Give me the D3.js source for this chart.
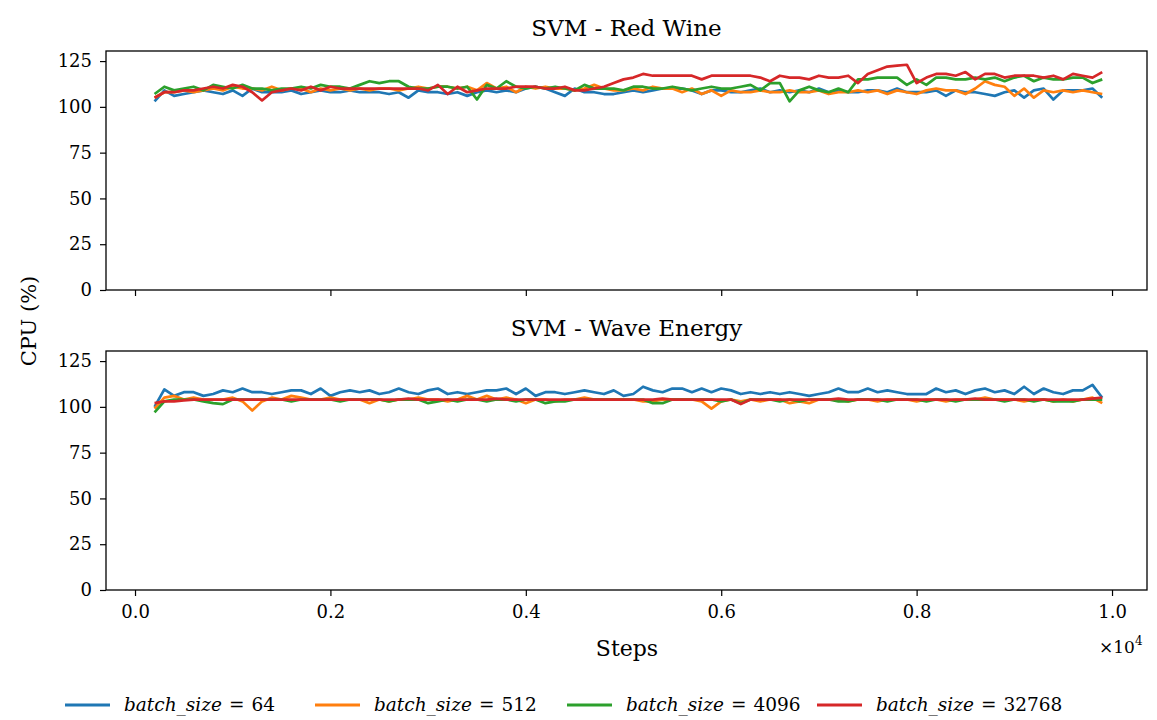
<!DOCTYPE html>
<html>
<head>
<meta charset="utf-8">
<script src="https://cdn.jsdelivr.net/npm/d3@7"></script>
<style>
  body { margin: 0; background: #fff; }
  svg text { font-family: "DejaVu Serif", serif; fill: #000; }
</style>
</head>
<body>
<script>
// steps 200..9900, every 100
const steps = d3.range(200, 10000, 100);

const seriesNames = ["64", "512", "4096", "32768"];
const colors = ["#1f77b4", "#ff7f0e", "#2ca02c", "#d62728"];
const panelTitles = ["SVM - Red Wine", "SVM - Wave Energy"];
const xTicks = [0, 2000, 4000, 6000, 8000, 10000];
const yTicks = [0, 25, 50, 75, 100, 125];

// Red Wine
const redWine64 = [103,109,106,107,108,109,108,107,109,106, 110,108,108,108,109,107,108,109,108,108,
  109,108,108,108,107,108,105,109,108,108, 107,108,106,108,109,108,109,108,110,111,
  110,108,106,110,108,108,107,107,108,109, 108,109,110,110,110,109,107,109,109,108,
  108,109,110,108,109,108,109,108,110,108, 109,108,108,109,109,108,110,108,108,108,
  109,106,109,108,108,107,106,108,109,105, 109,110,104,109,109,109,110,105];
const redWine512 = [105,108,108,109,108,109,110,109,111,110, 110,109,111,109,110,110,108,110,109,110,
  109,110,109,110,110,109,110,111,110,111, 111,110,111,109,113,110,111,108,111,110,
  111,110,110,109,110,112,110,109,109,110, 109,111,110,110,108,110,107,109,106,109,
  108,108,109,108,108,109,108,108,109,107, 108,108,109,108,109,107,109,108,107,109,
  110,109,109,107,110,114,112,111,106,110, 105,109,108,109,108,109,108,107];
const redWine4096 = [107,111,109,110,111,109,112,111,110,112, 110,110,109,110,110,111,110,112,111,111,
  110,112,114,113,114,114,111,110,110,111, 111,110,111,104,112,110,114,111,110,111,
  110,111,110,109,112,110,110,110,109,111, 111,110,110,111,110,109,110,111,110,110,
  111,112,109,113,113,103,109,111,109,108, 110,108,115,115,116,116,116,112,115,112,
  116,116,115,115,116,115,116,114,116,117, 114,116,115,115,116,116,113,115];
const redWine32768 = [105,108,108,109,109,110,111,110,112,111, 108,103.5,108,109,110,109,111,109,111,110,
  110,110,110,110,110,110,110,110,109,112, 107,111,108,109,110,110,110,111,111,111,
  110,110,111,109,109,110,111,113,115,116, 118,117,117,117,117,117,115,117,117,117,
  117,117,116,114,117,116,116,115,117,116, 116,117,113,118,120,122,122.5,123,113,116,
  118,118,117,119,115,118,118,116,117,117, 117,116,117,115,118,117,116,119];

// Wave Energy
const wave64 = [100,109.5,106,108,108,106,107,109,108,110, 108,108,107,108,109,109,107,110,106,108,
  109,108,109,107,108,110,108,107,109,110, 107,108,107,108,109,109,110,107,110,106,
  108,108,107,108,109,108,107,109,106,107, 111,109,108,110,110,108,110,108,110,109,
  107,108,107,108,107,108,107,106,107,108, 110,108,108,110,108,109,108,107,107,107,
  110,108,109,107,109,110,108,109,107,111, 107,110,108,107,109,109,112,105];
const wave512 = [99,105,106,104,105,104,104,104,105,103, 98,103,105,104,106,105,104,104,105,104,
  104,104,102,104,103,104,104,105,104,104, 103,104,106,104,106,104,105,104,102,104,
  104,103,104,104,105,104,104,104,104,104, 103,103,104,104,104,104,103,99,103,104,
  103,104,103,104,104,102,103,102,104,104, 104,103,104,104,103,104,104,104,103,104,
  104,103,104,104,104,105,104,104,104,103, 104,104,103,104,103,104,105,102];
const wave4096 = [97,103,104,104,104,103,102,101.5,104,104, 104,104,104,104,103,104,104,104,104,103,
  104,104,104,104,103,104,104,104,102,103, 104,103,104,104,103,104,104,103,104,104,
  102,103,103,104,104,104,104,104,104,104, 104,102,102,104,104,104,104,104,103,104,
  102,104,104,104,103,104,103,104,104,104, 103,103,104,104,104,103,104,104,104,103,
  104,104,103,104,104,104,104,103,104,104, 103,104,103,103,103,104,104,104];
const wave32768 = [102,103,103,103.5,104,104,104,104,104,104, 104,104,104,104,104,104,104,104,104,104,
  104,104,104,104,104,104,104.5,104,104,104, 104,104,104,104,104,104.5,104,104,104,104,
  104,104,104,104,104,104,104,104,104,104, 104,104,104.5,104,104,104,104,104,104,104,
  101.5,104,104,104,104,104,104,104,104,104, 104.5,104,104,104,104,104,104,104,104,104,
  104,104,104,104,104.5,104,104,104,104,104, 104,104,104,104,104,104,104.5,105];

const panels = [
  [redWine64, redWine512, redWine4096, redWine32768],
  [wave64, wave512, wave4096, wave32768]
];

const W = 1157, H = 720;
const left = 106, right = 1147;
const panelBox = [{ top: 51, bottom: 290 }, { top: 351, bottom: 590 }];

const svg = d3.select("body").append("svg")
  .attr("width", W)
  .attr("height", H)
  .attr("font-family", "DejaVu Serif");

const x = d3.scaleLinear().domain([-297, 10358]).range([left, right]);

panels.forEach(function(data, p) {
  const box = panelBox[p];
  const y = d3.scaleLinear().domain([0, 130.5]).range([box.bottom, box.top]);
  const g = svg.append("g");

  // x axis
  const xAxis = d3.axisBottom(x)
    .tickValues(xTicks)
    .tickSize(6)
    .tickSizeOuter(0)
    .tickFormat(p === 1 ? d => (d / 10000).toFixed(1) : "");
  const xa = g.append("g")
    .attr("transform", "translate(0," + box.bottom + ")")
    .call(xAxis)
    .attr("font-family", null);
  xa.select(".domain").remove();
  xa.selectAll("line").attr("stroke", "#000").attr("stroke-width", 1.2);
  xa.selectAll("text").attr("font-size", 18).attr("y", 12).attr("dy", "0.9em");

  // y axis
  const ya = g.append("g")
    .attr("transform", "translate(" + left + ",0)")
    .call(d3.axisLeft(y).tickValues(yTicks).tickSize(6).tickSizeOuter(0))
    .attr("font-family", null);
  ya.select(".domain").remove();
  ya.selectAll("line").attr("stroke", "#000").attr("stroke-width", 1.2);
  ya.selectAll("text").attr("font-size", 18).attr("x", -14);

  // lines
  const line = d3.line()
    .x((d, i) => x(steps[i]))
    .y(d => y(d));
  data.forEach(function(vals, k) {
    g.append("path")
      .datum(vals)
      .attr("fill", "none")
      .attr("stroke", colors[k])
      .attr("stroke-width", 2.7)
      .attr("stroke-linejoin", "round")
      .attr("d", line);
  });

  // frame
  g.append("rect")
    .attr("x", left)
    .attr("y", box.top)
    .attr("width", right - left)
    .attr("height", box.bottom - box.top)
    .attr("fill", "none")
    .attr("stroke", "#000")
    .attr("stroke-width", 1.3);

  // title
  g.append("text")
    .attr("x", (left + right) / 2)
    .attr("y", box.top - 15)
    .attr("text-anchor", "middle")
    .attr("font-size", 23)
    .text(panelTitles[p]);
});

// axis labels
svg.append("text")
  .attr("transform", "translate(36,321) rotate(-90)")
  .attr("text-anchor", "middle")
  .attr("font-size", 21)
  .text("CPU (%)");

svg.append("text")
  .attr("x", 627)
  .attr("y", 656)
  .attr("text-anchor", "middle")
  .attr("font-size", 22)
  .text("Steps");

const mult = svg.append("text")
  .attr("x", 1099)
  .attr("y", 653)
  .attr("font-size", 17);
mult.append("tspan").text("×10");
mult.append("tspan").attr("font-size", 12).attr("dy", -8).text("4");

// legend
const legendX = [65, 315, 567, 817];
const legend = svg.selectAll(".legend")
  .data(seriesNames)
  .enter()
  .append("g")
  .attr("class", "legend")
  .attr("transform", (d, i) => "translate(" + legendX[i] + ",705)");

legend.append("line")
  .attr("x1", 0)
  .attr("x2", 45)
  .attr("stroke", (d, i) => colors[i])
  .attr("stroke-width", 3);

const lt = legend.append("text")
  .attr("x", 59)
  .attr("y", 6)
  .attr("font-size", 18.5);
lt.append("tspan").attr("font-style", "italic").text("batch_size");
lt.append("tspan").attr("dx", 7).text("=");
lt.append("tspan").attr("dx", 7).text(d => d);
</script>
</body>
</html>
